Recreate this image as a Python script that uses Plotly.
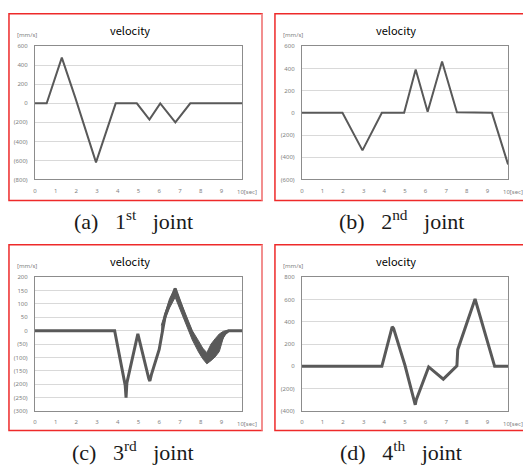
import plotly.graph_objects as go

W, H = 523, 468

# ---------------- data ----------------
a_x = [0, 0.57, 1.3, 1.95, 2.95, 3.9, 4.92, 5.53, 6.05, 6.78, 7.5, 10]
a_y = [0, 0, 480, 60, -620, 0, 0, -170, 0, -200, 0, 0]

b_x = [0, 1.97, 2.94, 3.88, 4.96, 5.52, 6.1, 6.8, 7.52, 9.22, 10]
b_y = [0, 0, -338, 0, 0, 390, 10, 462, 5, 0, -465]

c_x = [0, 3.85, 4.36, 4.40, 4.44, 4.97, 5.5, 5.55, 5.62, 6.0, 6.3, 6.77,
       7.3, 7.7, 8.05, 8.3, 8.6, 8.9, 9.15, 9.35, 10]
c_y = [0, 0, -205, -250, -195, -12, -180, -188, -165, -70, 60, 158,
       40, -30, -88, -108, -80, -45, -12, 0, 0]
# noisy band (upper / lower envelope) of the 3rd joint
cb_x = [6.1, 6.3, 6.5, 6.77, 7.0, 7.3, 7.6, 7.9, 8.1, 8.3, 8.5, 8.7, 8.9, 9.1, 9.3]
cb_hi = [20, 75, 120, 160, 115, 55, 0, -38, -65, -82, -50, -30, -12, -2, 2]
cb_lo = [-15, 45, 85, 125, 85, 25, -35, -80, -105, -124, -112, -98, -78, -25, -3]

d_x = [0, 3.88, 4.38, 4.45, 5.0, 5.45, 5.5, 5.55, 5.65, 5.83, 6.15, 6.86,
       7.52, 7.56, 8.4, 9.35, 10]
d_y = [0, 0, 355, 340, 10, -290, -345, -300, -250, -160, -5, -115,
       5, 150, 605, 0, 0]

x_ticks = list(range(10))
x_labels = [str(v) for v in range(10)]
x_last_label = "10[sec]"

a_yticks = [-800, -600, -400, -200, 0, 200, 400, 600]
a_ylabels = ["(800)", "(600)", "(400)", "(200)", "0", "200", "400", "600"]
b_yticks = [-600, -400, -200, 0, 200, 400, 600]
b_ylabels = ["(600)", "(400)", "(200)", "0", "200", "400", "600"]
c_yticks = [-300, -250, -200, -150, -100, -50, 0, 50, 100, 150, 200]
c_ylabels = ["(300)", "(250)", "(200)", "(150)", "(100)", "(50)", "0",
             "50", "100", "150", "200"]
d_yticks = [-400, -200, 0, 200, 400, 600, 800]
d_ylabels = ["(400)", "(200)", "0", "200", "400", "600", "800"]

titles = ["velocity", "velocity", "velocity", "velocity"]
unit_label = "[mm/s]"
captions = ["(a)\u00a0\u00a0\u00a01<sup>st</sup>\u00a0\u00a0\u00a0joint",
            "(b)\u00a0\u00a0\u00a02<sup>nd</sup>\u00a0\u00a0\u00a0joint",
            "(c)\u00a0\u00a0\u00a03<sup>rd</sup>\u00a0\u00a0\u00a0joint",
            "(d)\u00a0\u00a0\u00a04<sup>th</sup>\u00a0\u00a0\u00a0joint"]

# ---------------- layout geometry (pixels) ----------------
def px(x):
    return x / W

def py(y):
    return 1 - y / H

cols = [dict(border=(7, 261), plot=(33, 241), title=128, unit=13, cap=132),
        dict(border=(274, 526), plot=(301, 508), title=396, unit=280, cap=401)]
rows = [dict(border=(10, 200), plot=(43, 178.5), title=26, unit=32, cap=220),
        dict(border=(245, 434), plot=(278, 414), title=261, unit=267, cap=455)]

LINE = "#595959"
TICKC = "#7f7f7f"
GRID = "#d9d9d9"
AXC = "#8c8c8c"
tick_font = dict(family="Noto Sans", size=6, color=TICKC)

fig = go.Figure()

panels = [
    (a_x, a_y, a_yticks, a_ylabels, 0, 0, 2),
    (b_x, b_y, b_yticks, b_ylabels, 0, 1, 2),
    (c_x, c_y, c_yticks, c_ylabels, 1, 0, 3),
    (d_x, d_y, d_yticks, d_ylabels, 1, 1, 3),
]

shapes = []
annotations = []
for i, (xs, ys, yt, yl, r, c, lw) in enumerate(panels):
    n = "" if i == 0 else str(i + 1)
    col, row = cols[c], rows[r]
    fig.add_trace(go.Scatter(x=xs, y=ys, mode="lines",
                             line=dict(color=LINE, width=lw),
                             xaxis="x" + n, yaxis="y" + n, hoverinfo="skip"))
    if i == 2:
        fig.add_trace(go.Scatter(x=cb_x + cb_x[::-1], y=cb_hi + cb_lo[::-1],
                                 mode="lines", fill="toself", fillcolor=LINE,
                                 line=dict(color=LINE, width=1),
                                 xaxis="x3", yaxis="y3", hoverinfo="skip"))
    fig.update_layout(**{
        "xaxis" + n: dict(domain=[px(col["plot"][0]), px(col["plot"][1])],
                          anchor="y" + n, range=[0, 10], tickvals=x_ticks,
                          ticktext=x_labels, showgrid=False, zeroline=False,
                          showline=True, linecolor=AXC, linewidth=1, mirror=True,
                          ticks="", tickfont=tick_font, ticklabelstandoff=5,
                          fixedrange=True),
        "yaxis" + n: dict(domain=[py(row["plot"][1]), py(row["plot"][0])],
                          anchor="x" + n, range=[yt[0], yt[-1]], tickvals=yt,
                          ticktext=yl, showgrid=True, gridcolor=GRID, gridwidth=1,
                          zeroline=False, showline=True, linecolor=AXC,
                          linewidth=1, mirror=True, ticks="", tickfont=tick_font,
                          ticklabelstandoff=5, fixedrange=True),
    })
    # red frame
    bx0, bx1 = col["border"]
    by0, by1 = row["border"]
    shapes.append(dict(type="rect", xref="paper", yref="paper",
                       x0=px(bx0), x1=px(bx1), y0=py(by1), y1=py(by0),
                       line=dict(color="#ee2a2a", width=1.5)))
    if c == 0:
        shapes.append(dict(type="line", xref="paper", yref="paper",
                           x0=px(bx1), x1=px(bx1), y0=py(by1), y1=py(by0),
                           line=dict(color="#f2a0a0", width=1.5)))
    annotations.append(dict(text=titles[i], xref="paper", yref="paper",
                            x=px(col["title"]), y=py(row["title"]),
                            xanchor="center", yanchor="middle", showarrow=False,
                            font=dict(family="Noto Sans CJK KR", size=11, color="#000000")))
    annotations.append(dict(text=unit_label, xref="paper", yref="paper",
                            x=px(col["unit"]), y=py(row["unit"]),
                            xanchor="left", yanchor="middle", showarrow=False,
                            font=tick_font))
    annotations.append(dict(text=x_last_label, xref="x" + n, yref="y" + n + " domain",
                            x=10, y=0, xanchor="left", yanchor="top", xshift=-7,
                            yshift=-7, showarrow=False, font=tick_font))
    annotations.append(dict(text=captions[i], xref="paper", yref="paper",
                            x=px(col["cap"]), y=py(row["cap"]),
                            xanchor="center", yanchor="middle", showarrow=False,
                            font=dict(family="Liberation Serif", size=22, color="#1a1a1a")))

fig.update_layout(width=W, height=H, margin=dict(l=0, r=0, t=0, b=0),
                  paper_bgcolor="white", plot_bgcolor="white", showlegend=False,
                  shapes=shapes, annotations=annotations)

fig.write_html("out.html", config={"displayModeBar": False},
               post_script="document.body.style.margin='0';document.body.style.padding='0';document.body.style.overflow='hidden';")
